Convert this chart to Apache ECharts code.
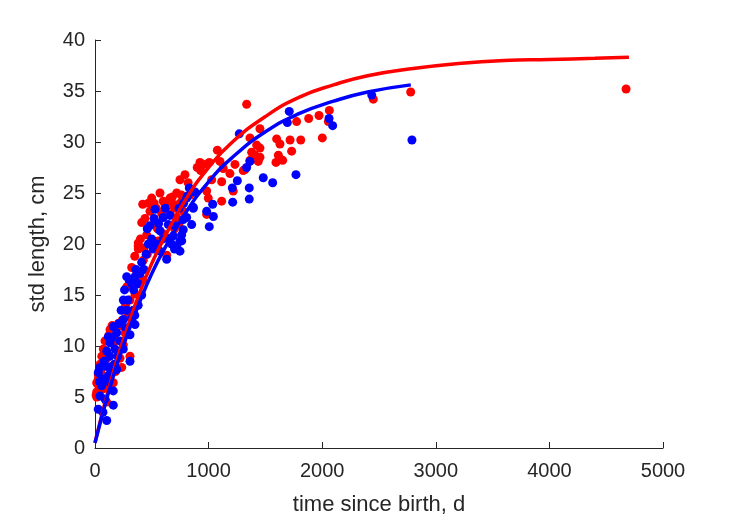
<!DOCTYPE html>
<html>
<head>
<meta charset="utf-8">
<script src="https://cdn.jsdelivr.net/npm/echarts@6/dist/echarts.min.js"></script>
<style>html,body{margin:0;padding:0;background:#fff;}#c{width:729px;height:521px;}</style>
</head>
<body>
<div id="c"></div>
<script>
// x ticks and y ticks
const xTicks = [0, 1000, 2000, 3000, 4000, 5000];
const yTicks = [0, 5, 10, 15, 20, 25, 30, 35, 40];

// observed points [time since birth (d), std length (cm)]
const redPoints = [
  [1335,33.7],[1452,31.3],[1364,30.4],[1423,29.7],[1452,29.4],[1379,29.0],[1408,28.7],[1452,28.5],
  [1364,28.2],[1437,28.1],[1305,27.2],[1599,30.3],[1628,29.8],[1717,30.2],[1811,30.2],[1731,29.1],
  [1614,28.7],[1652,28.2],[1593,28.0],[1775,32.0],[1881,32.3],[1972,32.6],[2063,33.1],[2054,32.0],
  [2001,30.4],[2450,34.2],[2779,34.9],[4675,35.2],
  [1077,29.2],[924,28.0],[1006,28.0],[930,27.2],[1100,28.1],[1129,27.4],[1232,27.8],[1188,26.9],
  [1027,26.3],[1115,26.1],[1217,25.2],[983,25.2],[997,24.5],[1115,24.2],[983,22.9],[792,26.8],
  [748,26.3],[1320,27.3],
  [572,25.0],[499,24.5],[420,23.9],[660,24.5],[719,25.0],[616,23.9],[689,23.9],[748,24.0],
  [836,24.8],[484,23.2],[587,23.0],[411,22.1],[528,22.2],[660,22.9],[719,22.6],[777,23.2],
  [381,20.1],[455,20.9],[381,19.5],[557,20.3],[631,20.6],[631,18.9],[430,19.6],[323,17.7],
  [367,17.1],[425,18.4],[279,15.8],[308,14.5],[352,15.1],[249,13.5],[293,12.9],[205,12.2],
  [190,11.8],[230,12.0],[132,11.6],[161,10.9],[73,9.7],[103,8.8],[220,8.8],[235,7.9],[308,9.0],
  [44,8.2],[29,7.2],[15,6.4],[15,5.5],[15,5.0],[20,6.3],[73,5.8],[103,4.5],[132,7.1],[161,6.4],
  [249,10.1],[264,11.3],[88,10.5],
  [10,5.2],[30,6.8],[60,9.0],[90,9.3],[120,11.0],[150,12.0],[180,10.5],[200,9.5],[240,12.5],
  [270,14.0],[300,16.0],[330,16.5],[350,18.8],[380,19.8],[400,20.5],[440,22.5],[470,24.0],
  [520,24.0],[540,23.5],[600,24.2],[640,23.0],[680,24.6],[700,23.5],[740,22.0],[760,24.8],
  [820,26.0],[900,27.5],[960,27.8],[600,21.0],[700,21.5],[550,21.5],[460,19.0],[500,20.0],
  [420,16.5],[50,7.5],[80,6.2],[140,8.0],[180,7.5]
];
const bluePoints = [
  [1270,30.8],[1710,33.0],[1693,31.9],[2060,32.3],[2092,31.6],[2436,34.6],[2790,30.2],[1769,26.8],
  [1564,26.0],[1481,26.5],[1364,28.1],[1335,27.5],[1358,25.5],[1358,24.4],[1253,26.2],[1209,25.5],
  [1212,24.1],[1036,23.9],[1042,22.7],[1006,21.7],[983,23.2],[813,24.7],[880,25.1],[865,23.6],
  [851,21.9],[777,22.4],[763,20.9],[763,20.3],
  [528,23.4],[601,22.6],[645,21.9],[484,21.8],[572,21.3],[499,20.5],[689,20.8],[748,20.3],
  [748,19.3],[631,18.5],[513,19.5],[807,24.5],[865,23.5],[807,22.6],[777,21.4],[675,20.0],
  [572,19.3],[411,18.2],[279,16.8],[323,16.1],[381,16.1],[396,17.1],[352,16.8],[411,15.0],
  [249,14.5],[279,13.5],[337,13.5],[249,12.6],[323,12.7],[352,12.1],[161,11.9],[117,10.9],
  [191,11.3],[132,10.3],[220,10.5],[308,11.1],[176,9.7],[103,9.5],[249,9.7],[308,8.5],[44,7.9],
  [29,7.4],[117,7.1],[191,7.7],[59,6.1],[161,5.6],[44,5.1],[88,4.8],[161,4.2],[29,3.8],[103,2.7],
  [60,6.8],[80,8.5],[100,8.0],[130,9.0],[150,10.8],[170,8.2],[200,9.0],[210,12.2],[230,13.5],
  [260,15.5],[290,14.5],[300,16.5],[340,15.5],[360,17.5],[380,14.0],[430,17.5],[450,19.0],
  [470,20.0],[540,20.0],[560,22.0],[600,20.5],[620,23.5],[650,20.5],[700,21.8],[720,19.8],
  [740,23.5],[780,24.0],[830,25.5],[700,19.5],[660,22.8],[520,22.5],[460,21.5],[350,13.0],
  [270,11.8],[120,6.5],[140,7.6],[70,3.5],[40,6.5]
];

// fitted growth curves
const redCurve = [
  [0,0.5],[50,2.8],[100,4.9],[150,7.0],[200,8.9],[300,12.3],[400,15.4],[500,18.1],[600,20.4],
  [800,24.4],[1000,27.5],[1200,29.9],[1500,32.5],[1800,34.4],[2100,35.6],[2400,36.5],[2800,37.2],
  [3200,37.7],[3600,38.0],[4000,38.1],[4400,38.2],[4700,38.3]
];
const blueCurve = [
  [0,0.5],[50,2.65],[100,4.7],[150,6.6],[200,8.4],[300,11.6],[400,14.5],[500,17.1],[600,19.3],
  [800,23.1],[1000,26.1],[1200,28.4],[1500,31.0],[1800,32.8],[2100,34.0],[2400,34.9],[2780,35.6]
];

const axisColor = '#262626';
const chart = echarts.init(document.getElementById('c'), null, {renderer: 'canvas'});
chart.setOption({
  animation: false,
  backgroundColor: '#ffffff',
  grid: {left: 95, right: 66, top: 40, bottom: 68, containLabel: false},
  xAxis: {
    type: 'value',
    min: xTicks[0], max: xTicks[xTicks.length - 1], interval: 1000,
    name: 'time since birth, d', nameLocation: 'middle', nameGap: 46,
    nameTextStyle: {fontFamily: 'Liberation Sans', fontSize: 22, color: axisColor},
    axisLine: {show: true, onZero: false, lineStyle: {color: axisColor, width: 1}},
    axisTick: {show: true, inside: true, length: 6, lineStyle: {color: axisColor}},
    axisLabel: {fontFamily: 'Liberation Sans', fontSize: 20, color: axisColor, margin: 13,
      formatter: function (v) { return String(v); }},
    splitLine: {show: false}
  },
  yAxis: {
    type: 'value',
    min: yTicks[0], max: yTicks[yTicks.length - 1], interval: 5,
    name: 'std length, cm', nameLocation: 'middle', nameGap: 46,
    nameTextStyle: {fontFamily: 'Liberation Sans', fontSize: 22, color: axisColor},
    axisLine: {show: true, onZero: false, lineStyle: {color: axisColor, width: 1}},
    axisTick: {show: true, inside: true, length: 6, lineStyle: {color: axisColor}},
    axisLabel: {fontFamily: 'Liberation Sans', fontSize: 20, color: axisColor, margin: 10,
      formatter: function (v) { return String(v); }},
    splitLine: {show: false}
  },
  series: [
    {type: 'scatter', data: redPoints, symbolSize: 9, itemStyle: {color: '#ff0000', opacity: 1}, z: 1},
    {type: 'scatter', data: bluePoints, symbolSize: 9, itemStyle: {color: '#0000ff', opacity: 1}, z: 2},
    {type: 'line', data: redCurve, smooth: true, showSymbol: false, lineStyle: {color: '#ff0000', width: 3.5}, z: 3},
    {type: 'line', data: blueCurve, smooth: true, showSymbol: false, lineStyle: {color: '#0000ff', width: 3.5}, z: 4}
  ]
});
</script>
</body>
</html>
